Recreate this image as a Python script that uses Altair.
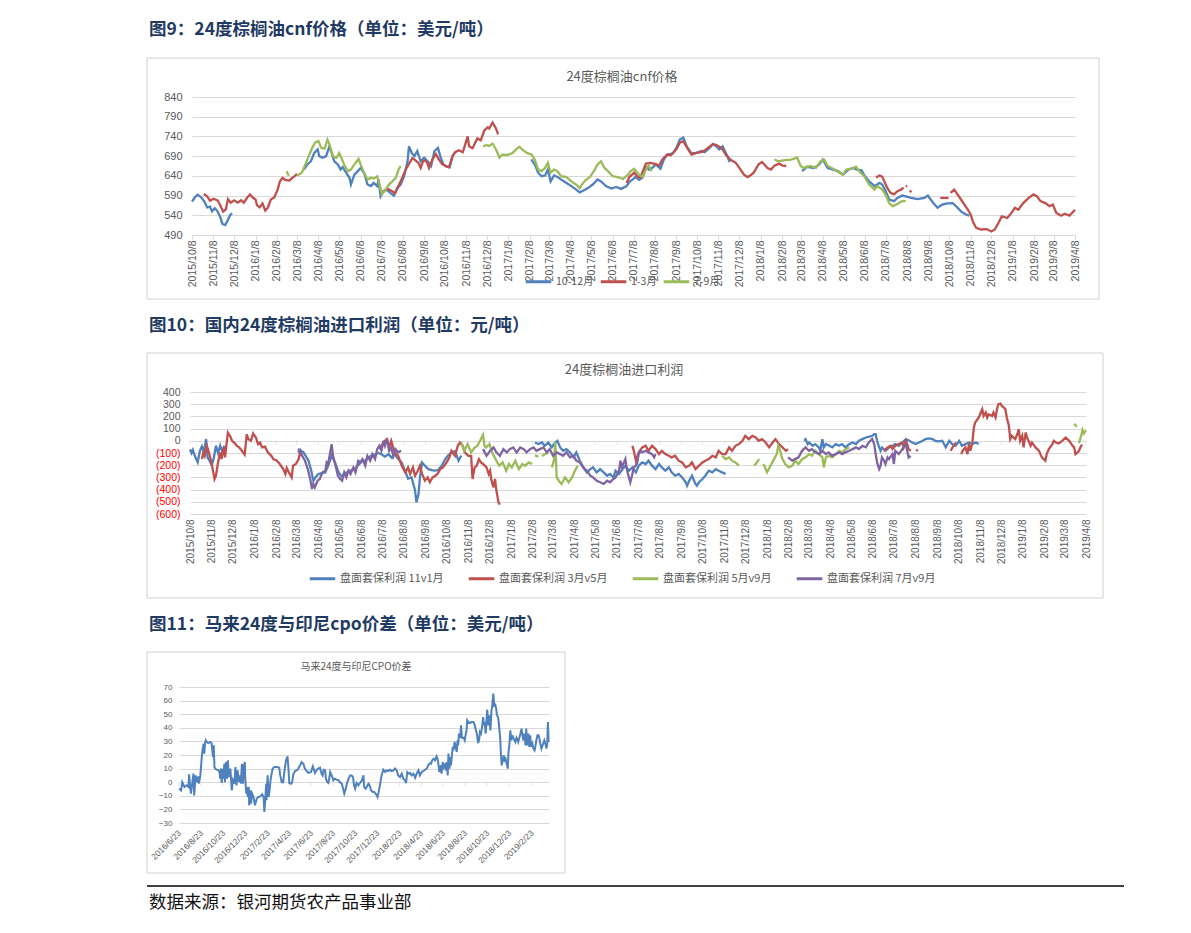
import altair as alt
import pandas as pd

BLUE, RED, GREEN, PURPLE = "#4F81BD", "#C0504D", "#9BBB59", "#8064A2"
GRID, LABEL, BOX, HEAD = "#D9D9D9", "#595959", "#D0D0D0", "#1F3B64"
CJK, NUM = "Noto Sans CJK SC", "Liberation Sans"

headings = ["图9：24度棕榈油cnf价格（单位：美元/吨）",
            "图10：国内24度棕榈油进口利润（单位：元/吨）",
            "图11：马来24度与印尼cpo价差（单位：美元/吨）"]
inner_titles = ["24度棕榈油cnf价格", "24度棕榈油进口利润", "马来24度与印尼CPO价差"]
source_note = "数据来源：银河期货农产品事业部"

# ---------------- Figure 9: CNF price ----------------
cnf_names = ["10-12月", "1-3月", "7-9月"]
cnf_yticks = [490, 540, 590, 640, 690, 740, 790, 840]

cnf_q4 = [
    ("2015-10-08", 575), ("2015-10-12", 585), ("2015-10-16", 592), ("2015-10-21", 586), ("2015-10-26", 575),
    ("2015-10-30", 560), ("2015-11-03", 562), ("2015-11-06", 550), ("2015-11-10", 558), ("2015-11-14", 550),
    ("2015-11-18", 535), ("2015-11-21", 518), ("2015-11-25", 515), ("2015-11-29", 528), ("2015-12-02", 540),
    ("2015-12-05", 545),
    None,
    ("2016-03-18", 656), ("2016-03-23", 669), ("2016-03-28", 677), ("2016-04-02", 698), ("2016-04-07", 707),
    ("2016-04-09", 690), ("2016-04-14", 686), ("2016-04-19", 690), ("2016-04-24", 715), ("2016-04-27", 698),
    ("2016-05-01", 677), ("2016-05-06", 669), ("2016-05-10", 656), ("2016-05-13", 662), ("2016-05-18", 648),
    ("2016-05-23", 635), ("2016-05-25", 618), ("2016-05-30", 643), ("2016-06-04", 652), ("2016-06-08", 660),
    ("2016-06-13", 648), ("2016-06-18", 618), ("2016-06-23", 614), ("2016-06-27", 622), ("2016-07-02", 614),
    ("2016-07-04", 631), ("2016-07-07", 588), ("2016-07-11", 601), ("2016-07-16", 605), ("2016-07-21", 597),
    ("2016-07-26", 590), ("2016-07-31", 609), ("2016-08-05", 618), ("2016-08-10", 639), ("2016-08-15", 677),
    ("2016-08-17", 715), ("2016-08-21", 698), ("2016-08-25", 690), ("2016-08-29", 703), ("2016-09-03", 677),
    ("2016-09-08", 686), ("2016-09-13", 677), ("2016-09-18", 665), ("2016-09-23", 703), ("2016-09-28", 711),
    ("2016-10-02", 686), ("2016-10-06", 669), ("2016-10-11", 663), ("2016-10-15", 662), ("2016-10-19", 690),
    ("2016-10-23", 700),
    None,
    ("2017-02-10", 682), ("2017-02-15", 669), ("2017-02-20", 648), ("2017-02-25", 639), ("2017-03-02", 641),
    ("2017-03-06", 656), ("2017-03-10", 626), ("2017-03-15", 641), ("2017-03-20", 637), ("2017-03-25", 631),
    ("2017-04-02", 622), ("2017-04-09", 614), ("2017-04-16", 605), ("2017-04-21", 598), ("2017-04-26", 602),
    ("2017-05-03", 609), ("2017-05-10", 618), ("2017-05-17", 631), ("2017-05-22", 626), ("2017-05-29", 614),
    ("2017-06-06", 608), ("2017-06-13", 612), ("2017-06-20", 607), ("2017-06-28", 614), ("2017-07-02", 625),
    ("2017-07-07", 631), ("2017-07-11", 637), ("2017-07-16", 630), ("2017-07-21", 635), ("2017-07-26", 663),
    ("2017-07-30", 656), ("2017-08-04", 660), ("2017-08-09", 669), ("2017-08-16", 658), ("2017-08-21", 682),
    ("2017-08-26", 694), ("2017-09-03", 697), ("2017-09-08", 711), ("2017-09-13", 732), ("2017-09-18", 737),
    ("2017-09-23", 715), ("2017-09-30", 697), ("2017-10-07", 698), ("2017-10-14", 703), ("2017-10-19", 700),
    ("2017-10-26", 711), ("2017-10-31", 720), ("2017-11-05", 715), ("2017-11-09", 707), ("2017-11-14", 715),
    ("2017-11-21", 690), ("2017-11-24", 675),
    None,
    ("2018-03-09", 652), ("2018-03-16", 663), ("2018-03-26", 660), ("2018-04-03", 669), ("2018-04-08", 681),
    ("2018-04-15", 660), ("2018-04-23", 656), ("2018-04-30", 652), ("2018-05-07", 643), ("2018-05-15", 656),
    ("2018-05-22", 660), ("2018-05-27", 656), ("2018-06-03", 654), ("2018-06-08", 639), ("2018-06-14", 626),
    ("2018-06-22", 614), ("2018-06-29", 622), ("2018-07-03", 618), ("2018-07-08", 601), ("2018-07-13", 580),
    ("2018-07-20", 576), ("2018-07-25", 584), ("2018-08-01", 590), ("2018-08-06", 588), ("2018-08-14", 584),
    ("2018-08-23", 581), ("2018-09-02", 584), ("2018-09-07", 590), ("2018-09-14", 573), ("2018-09-21", 559),
    ("2018-09-28", 567), ("2018-10-05", 570), ("2018-10-13", 571), ("2018-10-18", 563), ("2018-10-25", 550),
    ("2018-11-01", 542), ("2018-11-06", 539),
]

cnf_q1 = [
    ("2015-10-25", 594), ("2015-10-30", 588), ("2015-11-03", 577), ("2015-11-08", 582), ("2015-11-14", 578),
    ("2015-11-18", 565), ("2015-11-22", 549), ("2015-11-26", 555), ("2015-11-29", 581), ("2015-12-03", 572),
    ("2015-12-08", 578), ("2015-12-13", 572), ("2015-12-18", 578), ("2015-12-22", 572), ("2015-12-27", 585),
    ("2015-12-31", 593), ("2016-01-04", 585), ("2016-01-08", 580), ("2016-01-10", 566), ("2016-01-14", 560),
    ("2016-01-18", 570), ("2016-01-22", 552), ("2016-01-26", 560), ("2016-01-30", 580), ("2016-02-04", 585),
    ("2016-02-09", 605), ("2016-02-12", 625), ("2016-02-16", 635), ("2016-02-20", 630), ("2016-02-26", 628),
    ("2016-03-01", 635), ("2016-03-05", 640), ("2016-03-08", 645),
    None,
    ("2016-07-10", 598), ("2016-07-16", 608), ("2016-07-22", 603), ("2016-07-28", 596), ("2016-08-02", 615),
    ("2016-08-08", 638), ("2016-08-12", 655), ("2016-08-17", 670), ("2016-08-22", 685), ("2016-08-26", 680),
    ("2016-08-31", 672), ("2016-09-03", 660), ("2016-09-07", 680), ("2016-09-12", 675), ("2016-09-15", 660),
    ("2016-09-20", 682), ("2016-09-25", 695), ("2016-09-30", 680), ("2016-10-04", 670), ("2016-10-09", 665),
    ("2016-10-14", 662), ("2016-10-19", 690), ("2016-10-23", 700), ("2016-10-28", 705), ("2016-11-03", 700),
    ("2016-11-10", 740), ("2016-11-12", 715), ("2016-11-17", 710), ("2016-11-24", 735), ("2016-11-29", 730),
    ("2016-12-04", 755), ("2016-12-09", 763), ("2016-12-11", 760), ("2016-12-16", 775), ("2016-12-21", 760),
    ("2016-12-24", 745),
    None,
    ("2017-06-28", 622), ("2017-07-02", 637), ("2017-07-09", 648), ("2017-07-14", 638), ("2017-07-18", 636),
    ("2017-07-26", 671), ("2017-08-02", 673), ("2017-08-09", 670), ("2017-08-14", 666), ("2017-08-19", 682),
    ("2017-08-26", 694), ("2017-08-31", 692), ("2017-09-08", 707), ("2017-09-13", 724), ("2017-09-18", 728),
    ("2017-09-25", 707), ("2017-09-30", 694), ("2017-10-07", 698), ("2017-10-14", 700), ("2017-10-21", 707),
    ("2017-10-31", 721), ("2017-11-05", 718), ("2017-11-09", 714), ("2017-11-14", 707), ("2017-11-19", 692),
    ("2017-11-26", 680), ("2017-12-03", 673), ("2017-12-10", 656), ("2017-12-15", 643), ("2017-12-20", 637),
    ("2017-12-24", 641), ("2017-12-29", 648), ("2018-01-05", 669), ("2018-01-10", 675), ("2018-01-18", 660),
    ("2018-01-23", 656), ("2018-01-28", 666), ("2018-02-04", 671), ("2018-02-09", 666), ("2018-02-14", 665),
    None,
    ("2018-06-24", 636), ("2018-06-29", 641), ("2018-07-03", 638), ("2018-07-06", 626), ("2018-07-10", 610),
    ("2018-07-15", 597), ("2018-07-20", 593), ("2018-07-25", 601), ("2018-07-30", 605), ("2018-08-03", 610),
    None,
    ("2018-08-06", 613), ("2018-08-08", 615),
    None,
    ("2018-08-12", 603), ("2018-08-14", 598),
    None,
    ("2018-09-25", 584), ("2018-10-07", 584),
    None,
    ("2018-10-10", 597), ("2018-10-15", 605), ("2018-10-20", 593), ("2018-10-25", 580), ("2018-10-30", 567),
    ("2018-11-04", 554), ("2018-11-08", 542), ("2018-11-11", 525), ("2018-11-16", 508), ("2018-11-23", 504),
    ("2018-12-01", 505), ("2018-12-08", 499), ("2018-12-13", 504), ("2018-12-18", 520), ("2018-12-23", 537),
    ("2018-12-31", 533), ("2019-01-06", 546), ("2019-01-11", 559), ("2019-01-16", 554), ("2019-01-23", 571),
    ("2019-01-31", 584), ("2019-02-07", 593), ("2019-02-12", 588), ("2019-02-17", 576), ("2019-02-24", 571),
    ("2019-03-02", 563), ("2019-03-07", 567), ("2019-03-12", 546), ("2019-03-19", 539), ("2019-03-24", 544),
    ("2019-03-31", 539), ("2019-04-08", 554),
]

cnf_q3 = [
    ("2016-02-22", 652), ("2016-02-25", 640),
    None,
    ("2016-03-08", 641), ("2016-03-15", 648), ("2016-03-20", 669), ("2016-03-25", 690), ("2016-03-30", 711),
    ("2016-04-03", 724), ("2016-04-08", 728), ("2016-04-12", 711), ("2016-04-17", 709), ("2016-04-21", 732),
    ("2016-04-24", 720), ("2016-04-29", 690), ("2016-05-04", 686), ("2016-05-08", 698), ("2016-05-12", 682),
    ("2016-05-16", 665), ("2016-05-21", 652), ("2016-05-25", 656), ("2016-05-30", 669), ("2016-06-05", 683),
    ("2016-06-08", 669), ("2016-06-13", 648), ("2016-06-18", 631), ("2016-06-23", 635), ("2016-06-27", 633),
    ("2016-07-02", 639), ("2016-07-06", 614), ("2016-07-09", 593), ("2016-07-14", 605), ("2016-07-19", 618),
    ("2016-07-24", 626), ("2016-07-29", 635), ("2016-08-02", 656), ("2016-08-05", 665),
    None,
    ("2016-12-02", 715), ("2016-12-07", 718), ("2016-12-11", 716), ("2016-12-16", 722), ("2016-12-21", 707),
    ("2016-12-26", 686), ("2016-12-30", 694), ("2017-01-07", 693), ("2017-01-14", 698), ("2017-01-19", 707),
    ("2017-01-24", 714), ("2017-01-29", 705), ("2017-02-05", 697), ("2017-02-10", 695), ("2017-02-15", 682),
    ("2017-02-20", 656), ("2017-02-25", 652), ("2017-03-02", 660), ("2017-03-06", 673), ("2017-03-10", 648),
    ("2017-03-15", 656), ("2017-03-20", 652), ("2017-03-25", 639), ("2017-04-02", 637), ("2017-04-09", 626),
    ("2017-04-16", 618), ("2017-04-21", 609), ("2017-04-26", 622), ("2017-05-01", 631), ("2017-05-06", 637),
    ("2017-05-13", 656), ("2017-05-17", 669), ("2017-05-22", 677), ("2017-05-27", 660), ("2017-06-01", 652),
    ("2017-06-08", 639), ("2017-06-15", 637), ("2017-06-23", 632), ("2017-06-30", 643), ("2017-07-04", 652),
    ("2017-07-09", 658), ("2017-07-16", 643), ("2017-07-21", 637), ("2017-07-26", 656), ("2017-07-30", 666),
    ("2017-08-03", 652),
    None,
    ("2018-01-28", 682), ("2018-02-02", 677), ("2018-02-12", 680), ("2018-02-21", 681), ("2018-03-02", 686),
    ("2018-03-07", 665), ("2018-03-11", 660), ("2018-03-21", 665), ("2018-03-29", 660), ("2018-04-05", 677),
    ("2018-04-10", 681), ("2018-04-15", 665), ("2018-04-25", 656), ("2018-05-02", 648), ("2018-05-07", 643),
    ("2018-05-12", 656), ("2018-05-20", 658), ("2018-05-26", 663), ("2018-06-01", 649), ("2018-06-07", 639),
    ("2018-06-14", 618), ("2018-06-22", 605), ("2018-06-26", 614), ("2018-07-03", 605), ("2018-07-08", 592),
    ("2018-07-13", 571), ("2018-07-18", 563), ("2018-07-23", 567), ("2018-07-27", 571), ("2018-08-01", 576),
    ("2018-08-06", 576),
]

# ---------------- Figure 10: import profit ----------------
profit_names = ["盘面套保利润 11v1月", "盘面套保利润 3月v5月", "盘面套保利润 5月v9月", "盘面套保利润 7月v9月"]
profit_yticks = [-600, -500, -400, -300, -200, -100, 0, 100, 200, 300, 400]

profit_11v1 = [
    ("2015-10-08", -70), ("2015-10-10", -100), ("2015-10-12", -75), ("2015-10-15", -125), ("2015-10-19", -175),
    ("2015-10-22", -85), ("2015-10-25", -45), ("2015-10-28", -90), ("2015-10-31", 15), ("2015-11-02", -135),
    ("2015-11-05", -165), ("2015-11-08", -200), ("2015-11-11", -140), ("2015-11-14", -40), ("2015-11-17", -100),
    ("2015-11-20", -40), ("2015-11-23", -90), ("2015-11-26", -40),
    None,
    ("2016-03-10", -68), ("2016-03-18", -95), ("2016-03-25", -163), ("2016-03-29", -245), ("2016-04-01", -327),
    ("2016-04-04", -300), ("2016-04-08", -272), ("2016-04-13", -265), ("2016-04-18", -259), ("2016-04-22", -205),
    ("2016-04-27", -123), ("2016-05-02", -180), ("2016-05-07", -260), ("2016-05-11", -290), ("2016-05-16", -270),
    ("2016-05-21", -250), ("2016-05-26", -240), ("2016-05-30", -230), ("2016-06-04", -200), ("2016-06-09", -170),
    ("2016-06-14", -160), ("2016-06-18", -140), ("2016-06-23", -120), ("2016-06-28", -110), ("2016-07-03", -100),
    ("2016-07-07", -110), ("2016-07-12", -130), ("2016-07-17", -110), ("2016-07-22", -140), ("2016-07-26", -110),
    ("2016-07-31", -150), ("2016-08-05", -180), ("2016-08-10", -250), ("2016-08-14", -310), ("2016-08-19", -300),
    ("2016-08-24", -408), ("2016-08-26", -504), ("2016-08-29", -436), ("2016-08-31", -300), ("2016-09-03", -177),
    ("2016-09-07", -204), ("2016-09-12", -232), ("2016-09-17", -240), ("2016-09-21", -245), ("2016-09-26", -240),
    ("2016-10-01", -205), ("2016-10-06", -150), ("2016-10-10", -120), ("2016-10-15", -95), ("2016-10-20", -85),
    ("2016-10-25", -163), ("2016-10-29", -120),
    None,
    ("2017-02-11", -14), ("2017-02-16", -27), ("2017-02-21", -14), ("2017-02-25", -41), ("2017-03-02", -14),
    ("2017-03-07", -54), ("2017-03-12", -14), ("2017-03-15", 0), ("2017-03-19", -54), ("2017-03-23", -82),
    ("2017-03-28", -68), ("2017-04-02", -95), ("2017-04-07", -136), ("2017-04-11", -95), ("2017-04-16", -163),
    ("2017-04-21", -218), ("2017-04-26", -259), ("2017-05-01", -232), ("2017-05-05", -218), ("2017-05-10", -259),
    ("2017-05-15", -232), ("2017-05-20", -259), ("2017-05-25", -286), ("2017-05-29", -272), ("2017-06-03", -300),
    ("2017-06-06", -245), ("2017-06-11", -272), ("2017-06-16", -232), ("2017-06-20", -204), ("2017-06-25", -245),
    ("2017-06-30", -218), ("2017-07-05", -259), ("2017-07-09", -204), ("2017-07-14", -177), ("2017-07-19", -190),
    ("2017-07-23", -163), ("2017-07-28", -204), ("2017-08-02", -232), ("2017-08-07", -190), ("2017-08-11", -218),
    ("2017-08-16", -245), ("2017-08-21", -218), ("2017-08-25", -259), ("2017-08-30", -286), ("2017-09-04", -272),
    ("2017-09-09", -300), ("2017-09-14", -340), ("2017-09-16", -368), ("2017-09-19", -327), ("2017-09-23", -286),
    ("2017-09-28", -354), ("2017-09-30", -368), ("2017-10-03", -340), ("2017-10-08", -313), ("2017-10-12", -286),
    ("2017-10-17", -245), ("2017-10-22", -259), ("2017-10-27", -232), ("2017-10-31", -245), ("2017-11-05", -259),
    ("2017-11-10", -272),
    None,
    ("2018-03-02", 0), ("2018-03-04", 14), ("2018-03-07", -27), ("2018-03-09", -14), ("2018-03-14", -41),
    ("2018-03-18", -27), ("2018-03-23", -54), ("2018-03-25", -82), ("2018-03-28", 14), ("2018-03-30", -54),
    ("2018-04-02", -27), ("2018-04-07", -41), ("2018-04-11", -54), ("2018-04-16", -27), ("2018-04-21", -41),
    ("2018-04-25", -27), ("2018-04-30", -54), ("2018-05-05", -27), ("2018-05-10", -14), ("2018-05-15", -27),
    ("2018-05-19", 0), ("2018-05-24", 14), ("2018-05-29", 27), ("2018-06-02", 33), ("2018-06-07", 41),
    ("2018-06-10", 54), ("2018-06-12", 54), ("2018-06-14", 0), ("2018-06-17", -54), ("2018-06-19", -82),
    ("2018-06-21", -54), ("2018-06-26", -82), ("2018-07-01", -54), ("2018-07-06", -41), ("2018-07-10", -27),
    ("2018-07-15", -41), ("2018-07-20", -14), ("2018-07-25", 14), ("2018-07-30", 0), ("2018-08-03", -14),
    ("2018-08-08", -27), ("2018-08-13", -14), ("2018-08-18", 0), ("2018-08-22", 14), ("2018-08-27", 20),
    ("2018-09-01", 14), ("2018-09-05", 0), ("2018-09-10", -5), ("2018-09-15", 0), ("2018-09-20", -54),
    ("2018-09-25", 0), ("2018-09-29", -27), ("2018-10-04", -41), ("2018-10-09", 0), ("2018-10-13", -41),
    ("2018-10-18", -27), ("2018-10-23", -14), ("2018-10-28", -27), ("2018-11-02", -14), ("2018-11-06", -27),
]

profit_3v5 = [
    ("2015-10-25", -150), ("2015-10-27", -95), ("2015-10-29", -123), ("2015-11-01", -41), ("2015-11-04", -95),
    ("2015-11-08", -190), ("2015-11-12", -313), ("2015-11-14", -286), ("2015-11-17", -177), ("2015-11-20", -95),
    ("2015-11-22", -150), ("2015-11-25", -54), ("2015-11-27", -136), ("2015-12-01", 68), ("2015-12-04", 41),
    ("2015-12-07", 0), ("2015-12-10", -14), ("2015-12-14", -41), ("2015-12-17", -54), ("2015-12-21", -82),
    ("2015-12-25", -114), ("2015-12-28", 54), ("2015-12-30", 14), ("2016-01-03", 0), ("2016-01-06", 60),
    ("2016-01-10", 27), ("2016-01-13", -27), ("2016-01-16", -14), ("2016-01-19", -54), ("2016-01-23", -48),
    ("2016-01-27", -95), ("2016-02-01", -123), ("2016-02-04", -150), ("2016-02-09", -163), ("2016-02-13", -190),
    ("2016-02-18", -232), ("2016-02-21", -272), ("2016-02-23", -223), ("2016-02-26", -259), ("2016-03-01", -300),
    ("2016-03-03", -204), ("2016-03-07", -190), ("2016-03-11", -150), ("2016-03-13", -95), ("2016-03-16", -123),
    None,
    ("2016-07-05", -68), ("2016-07-07", -41), ("2016-07-12", 0), ("2016-07-15", 14), ("2016-07-18", -54),
    ("2016-07-21", 0), ("2016-07-24", -60), ("2016-07-27", -100), ("2016-07-31", -123), ("2016-08-05", -204),
    ("2016-08-10", -259), ("2016-08-14", -218), ("2016-08-17", -272), ("2016-08-21", -218), ("2016-08-24", -286),
    ("2016-08-28", -245), ("2016-08-31", -204), ("2016-09-03", -272), ("2016-09-07", -327), ("2016-09-11", -300),
    ("2016-09-14", -340), ("2016-09-18", -300), ("2016-09-21", -290), ("2016-09-25", -272), ("2016-09-29", -232),
    ("2016-10-03", -218), ("2016-10-08", -177), ("2016-10-12", -136), ("2016-10-15", -82), ("2016-10-20", -123),
    ("2016-10-24", -41), ("2016-10-27", -14), ("2016-10-31", -41), ("2016-11-03", -95), ("2016-11-08", -123),
    ("2016-11-12", -123), ("2016-11-14", -313), ("2016-11-17", -218), ("2016-11-20", -204), ("2016-11-23", -150),
    ("2016-11-26", -177), ("2016-11-29", -190), ("2016-12-04", -218), ("2016-12-07", -272), ("2016-12-09", -245),
    ("2016-12-11", -327), ("2016-12-14", -381), ("2016-12-16", -313), ("2016-12-18", -408), ("2016-12-21", -504),
    ("2016-12-23", -523),
    None,
    ("2017-06-30", -41), ("2017-07-02", -82), ("2017-07-05", -163), ("2017-07-09", -95), ("2017-07-14", -54),
    ("2017-07-19", -41), ("2017-07-23", -82), ("2017-07-28", -41), ("2017-08-02", -68), ("2017-08-07", -109),
    ("2017-08-11", -82), ("2017-08-16", -109), ("2017-08-21", -123), ("2017-08-25", -136), ("2017-08-30", -123),
    ("2017-09-04", -163), ("2017-09-09", -177), ("2017-09-14", -218), ("2017-09-19", -204), ("2017-09-23", -177),
    ("2017-09-28", -232), ("2017-10-03", -204), ("2017-10-08", -177), ("2017-10-12", -163), ("2017-10-17", -150),
    ("2017-10-22", -123), ("2017-10-27", -136), ("2017-10-31", -82), ("2017-11-05", -109), ("2017-11-10", -109),
    ("2017-11-15", -54), ("2017-11-19", -82), ("2017-11-24", -41), ("2017-11-29", -27), ("2017-12-04", 0),
    ("2017-12-08", 41), ("2017-12-13", 14), ("2017-12-18", 41), ("2017-12-23", 27), ("2017-12-27", 0),
    ("2018-01-01", 14), ("2018-01-06", -14), ("2018-01-11", -54), ("2018-01-16", -14), ("2018-01-20", 14),
    ("2018-01-25", -27), ("2018-01-30", -54), ("2018-02-04", -82), ("2018-02-07", -68),
    None,
    ("2018-06-24", -82), ("2018-06-29", -54), ("2018-07-03", -41), ("2018-07-06", -68), ("2018-07-10", -41),
    ("2018-07-15", -27), ("2018-07-20", -14), ("2018-07-22", -54), ("2018-07-25", 0), ("2018-07-27", -27),
    ("2018-07-29", -68), ("2018-08-01", -82),
    None,
    ("2018-08-09", -85), ("2018-08-11", -70),
    None,
    ("2018-09-27", -82), ("2018-10-01", -41), ("2018-10-05", -14),
    None,
    ("2018-10-12", -109), ("2018-10-14", -82), ("2018-10-18", -54), ("2018-10-21", -109), ("2018-10-23", -27),
    ("2018-10-25", -82), ("2018-10-28", -14), ("2018-10-30", 109), ("2018-11-01", 150), ("2018-11-06", 191),
    ("2018-11-11", 259), ("2018-11-13", 204), ("2018-11-16", 232), ("2018-11-18", 191), ("2018-11-20", 218),
    ("2018-11-25", 204), ("2018-11-27", 232), ("2018-11-30", 191), ("2018-12-02", 259), ("2018-12-04", 300),
    ("2018-12-07", 305), ("2018-12-09", 286), ("2018-12-12", 272), ("2018-12-14", 259), ("2018-12-16", 191),
    ("2018-12-19", 123), ("2018-12-21", 14), ("2018-12-23", 41), ("2018-12-28", 14), ("2018-12-31", 54),
    ("2019-01-02", 95), ("2019-01-04", 0), ("2019-01-07", 41), ("2019-01-09", -54), ("2019-01-12", 68),
    ("2019-01-14", 27), ("2019-01-16", 0), ("2019-01-19", -41), ("2019-01-21", -14), ("2019-01-26", -54),
    ("2019-01-31", -82), ("2019-02-04", -136), ("2019-02-09", -163), ("2019-02-11", -109), ("2019-02-14", -68),
    ("2019-02-19", -27), ("2019-02-21", 0), ("2019-02-24", -14), ("2019-02-28", -22), ("2019-03-05", 0),
    ("2019-03-10", 27), ("2019-03-15", 0), ("2019-03-20", -41), ("2019-03-22", -54), ("2019-03-24", -109),
    ("2019-03-27", -95), ("2019-03-29", -82), ("2019-04-01", -41), ("2019-04-03", -35),
]

profit_5v9 = [
    ("2016-10-29", -14), ("2016-11-02", -82), ("2016-11-07", -27), ("2016-11-12", -95), ("2016-11-17", -55),
    ("2016-11-21", -41), ("2016-11-26", 14), ("2016-11-29", 50), ("2016-12-01", -41), ("2016-12-03", -55),
    ("2016-12-08", -27), ("2016-12-13", -109), ("2016-12-18", -163), ("2016-12-22", -204), ("2016-12-27", -177),
    ("2017-01-01", -245), ("2017-01-05", -190), ("2017-01-09", -218), ("2017-01-14", -163), ("2017-01-19", -232),
    ("2017-01-24", -190), ("2017-01-28", -204), ("2017-02-02", -177), ("2017-02-07", -190),
    None,
    ("2017-02-11", -120), ("2017-02-16", -130),
    None,
    ("2017-02-21", -125), ("2017-02-25", -110), ("2017-03-02", -95),
    None,
    ("2017-03-07", -218), ("2017-03-10", -163), ("2017-03-12", -10), ("2017-03-14", -300), ("2017-03-17", -327),
    ("2017-03-21", -354), ("2017-03-26", -300), ("2017-03-31", -340), ("2017-04-05", -300), ("2017-04-09", -245),
    ("2017-04-13", -204),
    None,
    ("2017-11-05", -123), ("2017-11-10", -150), ("2017-11-15", -136), ("2017-11-19", -163), ("2017-11-24", -177),
    ("2017-11-29", -204),
    None,
    ("2017-12-21", -204), ("2017-12-28", -150),
    None,
    ("2018-01-03", -190), ("2018-01-08", -259), ("2018-01-13", -204), ("2018-01-17", -163), ("2018-01-22", -109),
    ("2018-01-24", -41), ("2018-01-27", -82), ("2018-01-29", -136), ("2018-02-03", -190), ("2018-02-08", -218),
    ("2018-02-13", -204), ("2018-02-17", -163), ("2018-02-22", -190), ("2018-02-27", -150), ("2018-03-04", -136),
    ("2018-03-09", -109), ("2018-03-13", -123), ("2018-03-18", -82), ("2018-03-23", -109), ("2018-03-28", -136),
    ("2018-03-30", -218), ("2018-04-02", -136), ("2018-04-06", -123), ("2018-04-11", -136), ("2018-04-16", -109),
    ("2018-04-21", -82), ("2018-04-25", -95), ("2018-04-30", -68), ("2018-05-05", -54),
    None,
    ("2019-03-22", 140), ("2019-03-26", 115),
    None,
    ("2019-03-29", -20), ("2019-04-01", 40), ("2019-04-03", 90), ("2019-04-05", 60), ("2019-04-08", 85),
]

profit_7v9 = [
    ("2016-03-10", -95), ("2016-03-13", -76), ("2016-03-16", -123), ("2016-03-20", -163), ("2016-03-24", -232),
    ("2016-03-27", -300), ("2016-03-30", -395), ("2016-04-01", -354), ("2016-04-03", -381), ("2016-04-07", -327),
    ("2016-04-10", -313), ("2016-04-14", -259), ("2016-04-18", -245), ("2016-04-20", -177), ("2016-04-22", -190),
    ("2016-04-25", -95), ("2016-04-27", -27), ("2016-04-29", -123), ("2016-05-02", -190), ("2016-05-06", -286),
    ("2016-05-09", -313), ("2016-05-12", -327), ("2016-05-15", -259), ("2016-05-18", -300), ("2016-05-21", -245),
    ("2016-05-24", -272), ("2016-05-28", -218), ("2016-05-31", -259), ("2016-06-04", -163), ("2016-06-07", -177),
    ("2016-06-10", -150), ("2016-06-14", -204), ("2016-06-17", -123), ("2016-06-21", -163), ("2016-06-24", -109),
    ("2016-06-28", -150), ("2016-07-01", -68), ("2016-07-04", -41), ("2016-07-07", -82), ("2016-07-10", 0),
    ("2016-07-12", -41), ("2016-07-15", 14), ("2016-07-18", -82), ("2016-07-21", -55), ("2016-07-24", -123),
    ("2016-07-27", -68), ("2016-07-31", -95), ("2016-08-04", -80),
    None,
    ("2016-11-29", -68), ("2016-12-04", -123), ("2016-12-09", -82), ("2016-12-14", -54), ("2016-12-18", -95),
    ("2016-12-23", -123), ("2016-12-28", -68), ("2017-01-02", -95), ("2017-01-06", -68), ("2017-01-11", -54),
    ("2017-01-16", -95), ("2017-01-21", -54), ("2017-01-26", -68), ("2017-01-30", -95), ("2017-02-04", -68),
    ("2017-02-09", -54), ("2017-02-13", -82), ("2017-02-18", -68), ("2017-02-23", -54), ("2017-02-28", -95),
    ("2017-03-04", -68), ("2017-03-09", -123), ("2017-03-14", -95), ("2017-03-19", -109), ("2017-03-23", -123),
    ("2017-03-28", -95), ("2017-04-02", -136), ("2017-04-07", -123), ("2017-04-11", -163), ("2017-04-16", -177),
    ("2017-04-21", -218), ("2017-04-26", -245), ("2017-05-01", -286), ("2017-05-05", -300), ("2017-05-10", -327),
    ("2017-05-15", -340), ("2017-05-20", -354), ("2017-05-25", -327), ("2017-05-29", -340), ("2017-06-03", -313),
    ("2017-06-06", -300), ("2017-06-11", -245), ("2017-06-13", -163), ("2017-06-15", -218), ("2017-06-18", -177),
    ("2017-06-20", -150), ("2017-06-22", -232), ("2017-06-25", -300), ("2017-06-27", -340), ("2017-06-30", -272),
    ("2017-07-02", -218), ("2017-07-05", -204), ("2017-07-07", -177), ("2017-07-09", -109), ("2017-07-12", -82),
    ("2017-07-14", -95), ("2017-07-19", -82), ("2017-07-23", -95), ("2017-07-28", -109), ("2017-07-31", -136),
    ("2017-08-02", -109),
    None,
    ("2018-02-07", -136), ("2018-02-13", -163), ("2018-02-17", -150), ("2018-02-22", -136), ("2018-02-27", -82),
    ("2018-03-04", -54), ("2018-03-09", -82), ("2018-03-13", -68), ("2018-03-18", -95), ("2018-03-23", -109),
    ("2018-03-28", -82), ("2018-04-02", -109), ("2018-04-06", -95), ("2018-04-11", -123), ("2018-04-16", -109),
    ("2018-04-21", -95), ("2018-04-25", -109), ("2018-04-30", -95), ("2018-05-05", -82), ("2018-05-10", -68),
    ("2018-05-15", -54), ("2018-05-19", -68), ("2018-05-24", -41), ("2018-05-29", -54), ("2018-06-02", -14),
    ("2018-06-07", 14), ("2018-06-10", -27), ("2018-06-12", -109), ("2018-06-14", -177), ("2018-06-17", -232),
    ("2018-06-19", -204), ("2018-06-21", -136), ("2018-06-24", -163), ("2018-06-26", -190), ("2018-06-29", -136),
    ("2018-07-01", -150), ("2018-07-06", -109), ("2018-07-08", -190), ("2018-07-10", -82), ("2018-07-15", -109),
    ("2018-07-20", -68), ("2018-07-25", -27), ("2018-07-27", -82), ("2018-07-29", -136), ("2018-08-01", -123),
]

# ---------------- Figure 11: MY vs ID CPO spread ----------------
cpo_start = "2016-06-23"
cpo_end = "2019-04-12"
cpo_yticks = [-30, -20, -10, 0, 10, 20, 30, 40, 50, 60, 70]
cpo_ticks = ["2016-06-23", "2016-08-23", "2016-10-23", "2016-12-23", "2017-02-23", "2017-04-23",
             "2017-06-23", "2017-08-23", "2017-10-23", "2017-12-23", "2018-02-23", "2018-04-23",
             "2018-06-23", "2018-08-23", "2018-10-23", "2018-12-23", "2019-02-23"]
# (days after 2016-06-23, spread)
cpo_points = [
    (0, -4.8), (6, -6.0), (9, 0), (15, -3.5), (21, -2.3), (26, -3.5), (28, 5.8), (31, -3.5), (33, -8.4),
    (40, 6.3), (42, -9.7), (46, 5.0), (50, 0), (53, 4.3), (55, -1.1), (59, 5.0), (63, 18.5), (65, 23.4),
    (68, 28.3), (70, 21.0), (72, 28.3), (74, 30.8), (77, 29.6), (81, 28.8), (86, 29.6), (90, 28.8), (92, 23.4),
    (94, 18.5), (96, 27.1), (98, 11.2), (100, 10.0), (104, 9.2), (109, 8.7), (112, 7.5), (114, 2.6), (116, 10.0),
    (118, -0.6), (121, 10.0), (124, 2.6), (125, 13.6), (127, 0), (130, 14.8), (133, 2.6), (135, 16.1), (138, 3.8),
    (142, 10.0), (146, -6.0), (149, 1.4), (153, -1.1), (156, 11.2), (159, -2.3), (162, 8.7), (166, 0), (169, 5.0),
    (171, -1.1), (174, 13.6), (177, -1.1), (179, 11.2), (182, 14.8), (183, 3.8), (186, -8.4), (188, -3.5),
    (190, -10.9), (193, -3.5), (194, -17.0), (197, -6.0), (199, -15.8), (202, -8.4), (206, -10.9), (210, -17.0),
    (215, -12.1), (219, -10.9), (225, -10.4), (230, -8.9), (234, -10.9), (236, -21.9), (239, -10.9), (241, -1.1),
    (242, -13.3), (245, 5.0), (248, -10.9), (251, -4.8), (253, 1.4), (256, 6.3), (259, 10.0), (264, 11.2),
    (270, 11.2), (277, 10.7), (280, 5.0), (284, 0), (288, 0), (293, 11.2), (296, 16.1), (300, 19.0), (302, 12.4),
    (305, -0.6), (310, -1.1), (313, 0), (316, 5.8), (321, 8.2), (328, 9.2), (335, 12.4), (339, 14.8), (344, 13.6),
    (348, 10.0), (353, 8.2), (358, 6.8), (365, 7.5), (370, 11.7), (373, 9.2), (376, 6.8), (381, 9.2), (385, 10.0),
    (390, 10.7), (394, 6.3), (397, 5.0), (400, 9.2), (404, 8.7), (406, 2.6), (410, 0), (413, -0.6), (416, 3.8),
    (418, 7.5), (422, 5.0), (427, 1.4), (431, 2.6), (436, 1.9), (441, 1.4), (445, 0), (450, -1.1), (454, -4.8),
    (457, -8.4), (461, -4.8), (464, -1.1), (468, 1.9), (473, 5.0), (477, 5.0), (481, 3.8), (484, -2.3), (487, -4.8),
    (491, -0.6), (496, -2.3), (500, -0.6), (505, 0.9), (510, 5.0), (512, -3.5), (516, -4.8), (520, -3.0),
    (524, -1.1), (527, -2.3), (531, -6.0), (536, -7.2), (540, -7.2), (545, -8.9), (549, -10.9), (553, -6.0),
    (557, 0), (560, 5.0), (565, 9.2), (570, 7.5), (574, 8.7), (579, 8.2), (583, 9.2), (588, 8.2), (593, 8.7),
    (597, 10.0), (602, 8.7), (606, 5.0), (611, 3.8), (616, 6.3), (620, 2.6), (625, 1.4), (628, -0.6), (631, 7.5),
    (636, 6.3), (639, 6.8), (643, 5.0), (648, 6.3), (653, 3.3), (657, 6.3), (662, 8.7), (666, 5.0), (671, 7.5),
    (676, 8.2), (680, 9.2), (685, 10.0), (689, 12.4), (694, 14.0), (697, 13.6), (700, 16.1), (704, 17.3),
    (708, 16.1), (712, 19.0), (715, 17.3), (717, 13.6), (720, 7.5), (724, 12.4), (726, 6.3), (729, 14.8),
    (732, 11.2), (736, 13.6), (737, 8.7), (740, 14.8), (743, 5.0), (745, 21.0), (748, 10.0), (750, 18.5),
    (752, 12.4), (755, 21.0), (757, 25.9), (759, 23.4), (762, 29.6), (765, 25.9), (768, 22.2), (770, 30.8),
    (772, 27.1), (774, 35.7), (777, 32.7), (780, 41.8), (782, 32.7), (784, 32.7), (787, 32.7), (790, 30.8),
    (793, 35.7), (795, 38.1), (797, 45.5), (800, 44.3), (805, 43.5), (809, 44.3), (814, 44.3), (818, 41.8),
    (821, 38.1), (824, 35.2), (827, 28.8), (830, 31.3), (832, 36.9), (835, 35.7), (838, 40.6), (841, 47.9),
    (843, 41.8), (845, 44.3), (848, 35.7), (850, 44.3), (852, 53.3), (854, 47.9), (855, 41.8), (858, 49.2),
    (861, 38.1), (864, 52.8), (866, 55.8), (869, 65.1), (872, 55.3), (874, 57.7), (877, 54.1), (879, 49.2),
    (882, 47.9), (884, 44.3), (886, 38.1), (888, 32.7), (890, 21.0), (892, 12.4), (895, 16.1), (898, 19.8),
    (900, 16.1), (903, 17.3), (906, 13.6), (909, 10.0), (911, 22.2), (913, 25.9), (916, 38.1), (919, 30.8),
    (922, 34.5), (924, 32.7), (927, 31.3), (930, 29.6), (933, 32.7), (936, 31.3), (938, 29.6), (941, 32.7),
    (944, 35.7), (947, 39.4), (949, 35.7), (952, 30.8), (955, 35.7), (958, 27.1), (960, 39.4), (963, 27.1),
    (966, 35.7), (969, 25.9), (971, 34.5), (974, 25.9), (977, 28.3), (980, 24.7), (983, 23.4), (985, 25.9),
    (988, 30.8), (991, 34.5), (994, 34.5), (996, 32.7), (999, 28.3), (1002, 24.7), (1005, 27.1), (1007, 28.3),
    (1010, 30.8), (1013, 28.3), (1016, 24.7), (1018, 28.3), (1020, 44.3), (1022, 29.6),
]


# ---------------- helpers ----------------
def frame(named):
    rows = []
    for name, pts in named:
        seg = 0
        for p in pts:
            if p is None:
                seg += 1
                continue
            rows.append({"series": name, "seg": f"{name}#{seg}", "date": p[0], "value": p[1]})
    return pd.DataFrame(rows)


def ms(s):
    return int(pd.Timestamp(s, tz="UTC").timestamp() * 1000)


def month8_ticks(first, last):
    out = []
    for y in range(2015, 2020):
        for m in range(1, 13):
            d = f"{y}-{m:02d}-08"
            if first <= d <= last:
                out.append(d)
    return out


one = pd.DataFrame({"k": [0]})


def deco(heading, head_xy, title, title_xy, title_size, box):
    bx1, bx2, by1, by2 = box
    rect = alt.Chart(one).mark_rect(fill="transparent", stroke=BOX, strokeWidth=1).encode(
        x=alt.value(bx1), x2=alt.value(bx2), y=alt.value(by1), y2=alt.value(by2))
    head = alt.Chart(pd.DataFrame({"t": [heading]})).mark_text(
        align="left", baseline="middle", font=CJK, fontSize=17.5, fontWeight="bold", color=HEAD
    ).encode(text="t:N", x=alt.value(head_xy[0]), y=alt.value(head_xy[1]))
    ttl = alt.Chart(pd.DataFrame({"t": [title]})).mark_text(
        align="center", baseline="middle", font=CJK, fontSize=title_size, color=LABEL
    ).encode(text="t:N", x=alt.value(title_xy[0]), y=alt.value(title_xy[1]))
    return rect, head, ttl


# All three panels share the same view origin (left edge of figure 11's plot);
# the wider panels start their x range a little to the right of it.
S1, S2 = 13, 11

# ---------------- panel 1 ----------------
W1, H1 = 883, 138
cnf_df = frame([(cnf_names[0], cnf_q4), (cnf_names[1], cnf_q1), (cnf_names[2], cnf_q3)])
cnf_ticks = month8_ticks("2015-10-08", "2019-04-08")

x1 = alt.X("date:T", title=None,
           scale=alt.Scale(type="utc", domain=[ms("2015-10-08"), ms("2019-04-08")], range=[S1, S1 + W1]),
           axis=alt.Axis(values=[ms(t) for t in cnf_ticks], format="%Y/%-m/%-d", labelAngle=-90,
                         labelFont=NUM, labelFontSize=10.5, labelColor=LABEL, grid=False, domain=False,
                         ticks=True, tickColor=GRID, tickSize=4, labelPadding=1,
                         labelOverlap=False, labelFlush=False))
y1 = alt.Y("value:Q", title=None, scale=alt.Scale(domain=[490, 840], nice=False, zero=False),
           axis=alt.Axis(values=cnf_yticks, grid=True, gridColor=GRID, domain=False, ticks=False, offset=-S1,
                         labelPadding=10, labelFont=NUM, labelFontSize=11, labelColor=LABEL))
c1 = alt.Color("series:N", scale=alt.Scale(domain=cnf_names, range=[BLUE, RED, GREEN]),
               legend=alt.Legend(orient="none", legendX=332 + S1, legendY=170, direction="horizontal",
                                 title=None, symbolType="stroke", symbolSize=650, symbolStrokeWidth=3,
                                 labelFont=CJK, labelFontSize=10.5, labelColor=LABEL, columnPadding=0,
                                 labelOffset=3, padding=0))
lines1 = alt.Chart(cnf_df).mark_line(strokeWidth=2.3).encode(x=x1, y=y1, color=c1, detail="seg:N")
r1, h1, t1 = deco(headings[0], (-30, -67), inner_titles[0], (430 + S1, -20), 13,
                  (-32, 907 + S1, -39, 202))
panel1 = alt.layer(r1, lines1, t1, h1).properties(width=W1 + S1, height=H1)

# ---------------- panel 2 ----------------
W2, H2 = 896, 122
profit_df = frame([(profit_names[0], profit_11v1), (profit_names[1], profit_3v5),
                   (profit_names[2], profit_5v9), (profit_names[3], profit_7v9)])
profit_ticks = month8_ticks("2015-10-08", "2019-04-08")
x2 = alt.X("date:T", title=None,
           scale=alt.Scale(type="utc", domain=[ms("2015-10-08"), ms("2019-04-08")], range=[S2, S2 + W2]),
           axis=alt.Axis(values=[ms(t) for t in profit_ticks], format="%Y/%-m/%-d", labelAngle=-90,
                         labelFont=NUM, labelFontSize=10, labelColor=LABEL, grid=False, domain=False,
                         ticks=False, labelPadding=5, labelOverlap=False, labelFlush=False))
y2 = alt.Y("value:Q", title=None, scale=alt.Scale(domain=[-600, 400], nice=False, zero=False),
           axis=alt.Axis(values=profit_yticks, grid=True, gridColor=GRID, domain=False, ticks=False, offset=-S2,
                         labelPadding=10, labelFont=NUM, labelFontSize=10.5,
                         labelExpr="datum.value < 0 ? '(' + abs(datum.value) + ')' : datum.value + '\u00a0'",
                         labelColor={"expr": "datum.value < 0 ? '#FF0000' : '#595959'"}))
c2 = alt.Color("series:N", scale=alt.Scale(domain=profit_names, range=[BLUE, RED, GREEN, PURPLE]),
               legend=alt.Legend(orient="none", legendX=118 + S2, legendY=172, direction="horizontal",
                                 title=None, symbolType="stroke", symbolSize=650, symbolStrokeWidth=3,
                                 labelFont=CJK, labelFontSize=11, labelColor=LABEL, columnPadding=18,
                                 labelOffset=3, padding=0))
lines2 = alt.Chart(profit_df).mark_line(strokeWidth=2.3).encode(x=x2, y=y2, color=c2, detail="seg:N")
zero2 = alt.Chart(pd.DataFrame({"date": profit_ticks, "value": 0})).mark_tick(
    orient="vertical", size=4, thickness=1, color=GRID, yOffset=2).encode(x=x2, y=y2)
r2, h2, t2 = deco(headings[1], (-30, -66), inner_titles[1], (434 + S2, -22), 13,
                  (-32, 913 + S2, -39, 206))
panel2 = alt.layer(r2, zero2, lines2, t2, h2).properties(width=W2 + S2, height=H2)

# ---------------- panel 3 ----------------
W3, H3 = 370, 136
base = pd.Timestamp(cpo_start)
cpo_df = pd.DataFrame({
    "date": [(base + pd.Timedelta(days=d)).strftime("%Y-%m-%d") for d, _ in cpo_points],
    "value": [v for _, v in cpo_points],
})
x3 = alt.X("date:T", title=None,
           scale=alt.Scale(type="utc", domain=[ms(cpo_start), ms(cpo_end)]),
           axis=alt.Axis(values=[ms(t) for t in cpo_ticks], format="%Y/%-m/%-d", labelAngle=-45,
                         labelAlign="right", labelBaseline="middle",
                         labelFont=NUM, labelFontSize=8.5, labelColor=LABEL, grid=False, domain=False,
                         ticks=False, labelPadding=8, labelOverlap=False, labelFlush=False))
y3 = alt.Y("value:Q", title=None, scale=alt.Scale(domain=[-30, 70], nice=False, zero=False),
           axis=alt.Axis(values=cpo_yticks, grid=True, gridColor=GRID, domain=False, ticks=False,
                         labelPadding=7, labelFont=NUM, labelFontSize=8, labelColor=LABEL))
lines3 = alt.Chart(cpo_df).mark_line(strokeWidth=2, color=BLUE).encode(x=x3, y=y3)
zero3 = alt.Chart(pd.DataFrame({"date": cpo_ticks, "value": 0})).mark_tick(
    orient="vertical", size=4, thickness=1, color=GRID, yOffset=2).encode(x=x3, y=y3)
r3, h3, t3 = deco(headings[2], (-30, -62), inner_titles[2], (177, -20), 10, (-32, 386, -35, 186))
foot_rule = alt.Chart(one).mark_rule(color="#000000", strokeWidth=1.3).encode(
    x=alt.value(-32), x2=alt.value(945), y=alt.value(199))
foot_text = alt.Chart(pd.DataFrame({"t": [source_note]})).mark_text(
    align="left", baseline="middle", font=CJK, fontSize=17.5, color="#111111"
).encode(text="t:N", x=alt.value(-30), y=alt.value(216))
panel3 = alt.layer(r3, zero3, lines3, t3, h3, foot_rule, foot_text).properties(width=W3, height=H3)

chart = alt.vconcat(panel1, panel2, panel3, spacing=16).resolve_scale(
    x="independent", y="independent", color="independent"
).properties(
    padding={"left": 137, "top": 12, "right": 5, "bottom": 5}
).configure_view(stroke="transparent")

chart.save("out.html", embed_options={"renderer": "svg", "actions": False})
